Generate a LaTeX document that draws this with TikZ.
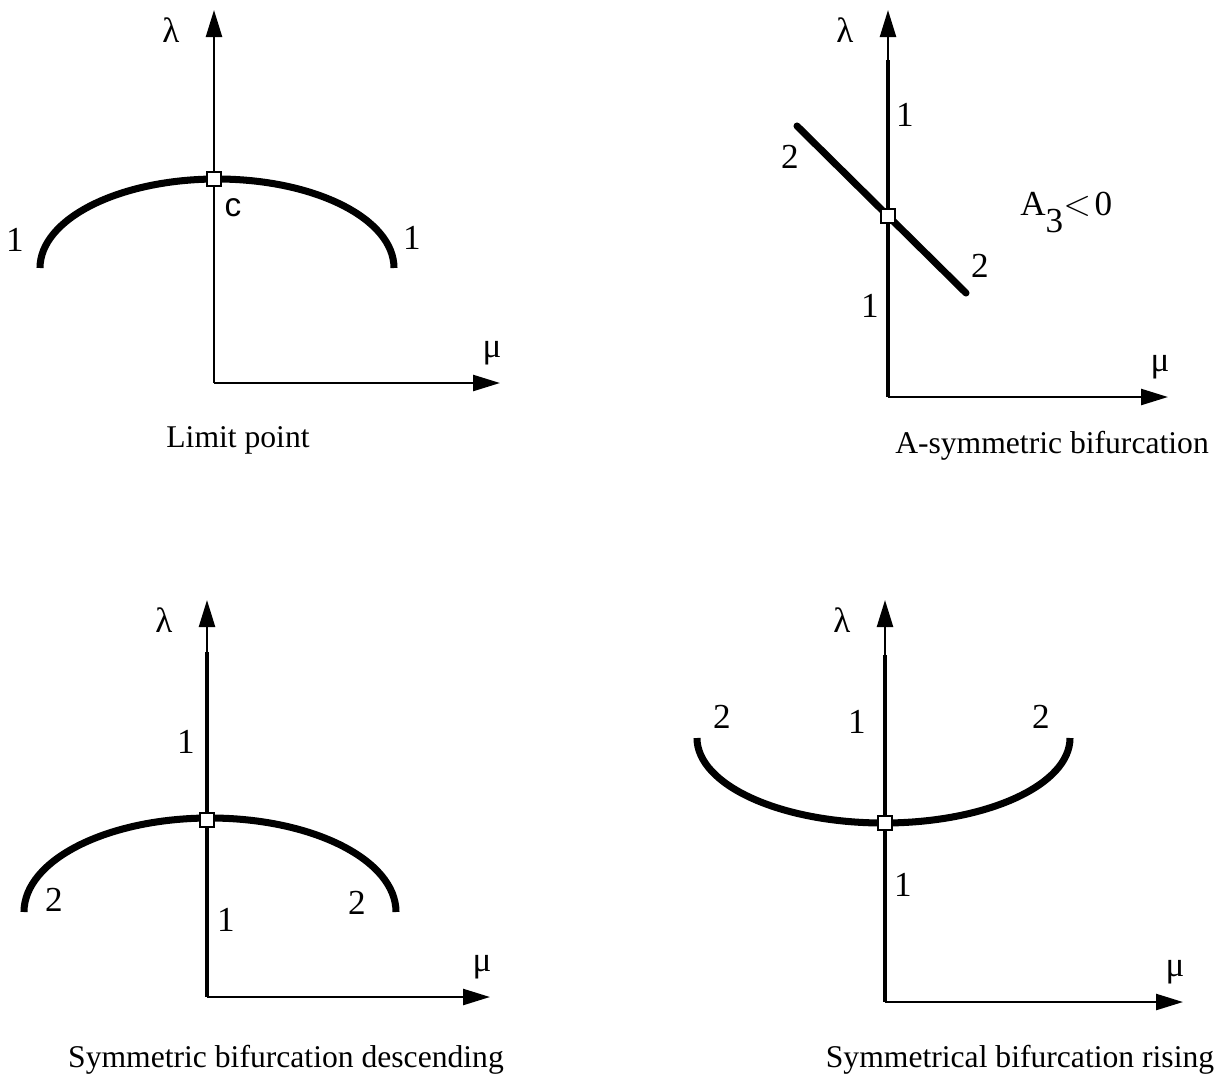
\documentclass[tikz,border=0pt]{standalone}
\usepackage{fontspec}
\setmainfont{Liberation Serif}
\newfontfamily\sanslbl{Liberation Sans}
\usetikzlibrary{arrows.meta}
\tikzset{
  axis/.style={line width=1.4pt, -{Triangle[length=5.4mm,width=3.2mm]}},
  branch/.style={line width=4pt},
  trunk/.style={line width=2.8pt},
  crit/.style={draw, fill=white, line width=1.3pt, minimum size=2.8mm, inner sep=0pt},
  num/.style={font=\fontsize{20}{24}\selectfont, inner sep=0pt},
  greek/.style={font=\fontsize{20}{24}\selectfont, inner sep=0pt},
  caption/.style={font=\fontsize{18}{22}\selectfont, inner sep=0pt}
}
\begin{document}
\begin{tikzpicture}[x=0.02cm, y=-0.02cm]
  \useasboundingbox (0,0) rectangle (1231,1083);
  % axes of the four panels: origin, top of lambda, end of mu
  \foreach \p/\ox/\oy/\ty/\tx in {lp/214/383/10/500, as/888/397/10/1168, sd/207/997/600/490, sr/885/1002/600/1183} {
    \coordinate (\p-o) at (\ox,\oy);
    \coordinate (\p-l) at (\ox,\ty);
    \coordinate (\p-m) at (\tx,\oy);
    \draw[axis] (\p-o) -- (\p-l);
    \draw[axis] (\p-o) -- (\p-m);
    \node[greek] (\p-lam) at (\ox-43,\ty+20) {λ};
    \node[greek] (\p-mu) at (\tx-8,\oy-30) {μ};
  }

  % limit point
  \coordinate (lp-a) at (40,268);
  \draw[branch] (lp-a) arc[start angle=180, end angle=360, x radius=177, y radius=89];
  \node[crit] (lp-c) at (214,179) {};
  \node[num] (lp-n1) at (15,240) {1};
  \node[num] (lp-n2) at (412,238) {1};
  \node[font=\sanslbl\fontsize{19}{20}\selectfont, inner sep=0pt] (lp-cc) at (233,208) {c};
  \node[caption] (lp-t) at (238,440) {Limit point};

  % a-symmetric bifurcation
  \coordinate (as-t) at (888,60);
  \coordinate (as-u) at (797,126);
  \coordinate (as-d) at (966,293);
  \draw[trunk] (as-o) -- (as-t);
  \draw[branch, line cap=round] (as-u) -- (as-d);
  \node[crit] (as-c) at (888,216) {};
  \node[num] (as-n1) at (905,115) {1};
  \node[num] (as-n2) at (790,157) {2};
  \node[num] (as-n3) at (980,266) {2};
  \node[num] (as-n4) at (870,306) {1};
  \node[num, anchor=base west] (as-a) at (1020,215) {A\raisebox{-0.5em}{3}$<$\hspace{0.1em}0};
  \node[caption] (as-t) at (1052,446) {A-symmetric bifurcation};

  % symmetric bifurcation descending
  \coordinate (sd-t) at (207,652);
  \coordinate (sd-a) at (24,912);
  \draw[trunk] (sd-o) -- (sd-t);
  \draw[branch] (sd-a) arc[start angle=180, end angle=360, x radius=186, y radius=94];
  \node[crit] (sd-c) at (207,820) {};
  \node[num] (sd-n1) at (186,742) {1};
  \node[num] (sd-n2) at (54,900) {2};
  \node[num] (sd-n3) at (226,920) {1};
  \node[num] (sd-n4) at (357,903) {2};
  \node[caption] (sd-t) at (286,1060) {Symmetric bifurcation descending};

  % symmetrical bifurcation rising
  \coordinate (sr-t) at (885,655);
  \coordinate (sr-a) at (697,738);
  \draw[trunk] (sr-o) -- (sr-t);
  \draw[branch] (sr-a) arc[start angle=180, end angle=0, x radius=186.5, y radius=85];
  \node[crit] (sr-c) at (885,823) {};
  \node[num] (sr-n1) at (722,717) {2};
  \node[num] (sr-n2) at (857,722) {1};
  \node[num] (sr-n3) at (1041,717) {2};
  \node[num] (sr-n4) at (903,885) {1};
  \node[caption] (sr-t) at (1020,1060) {Symmetrical bifurcation rising};
\end{tikzpicture}
\end{document}
